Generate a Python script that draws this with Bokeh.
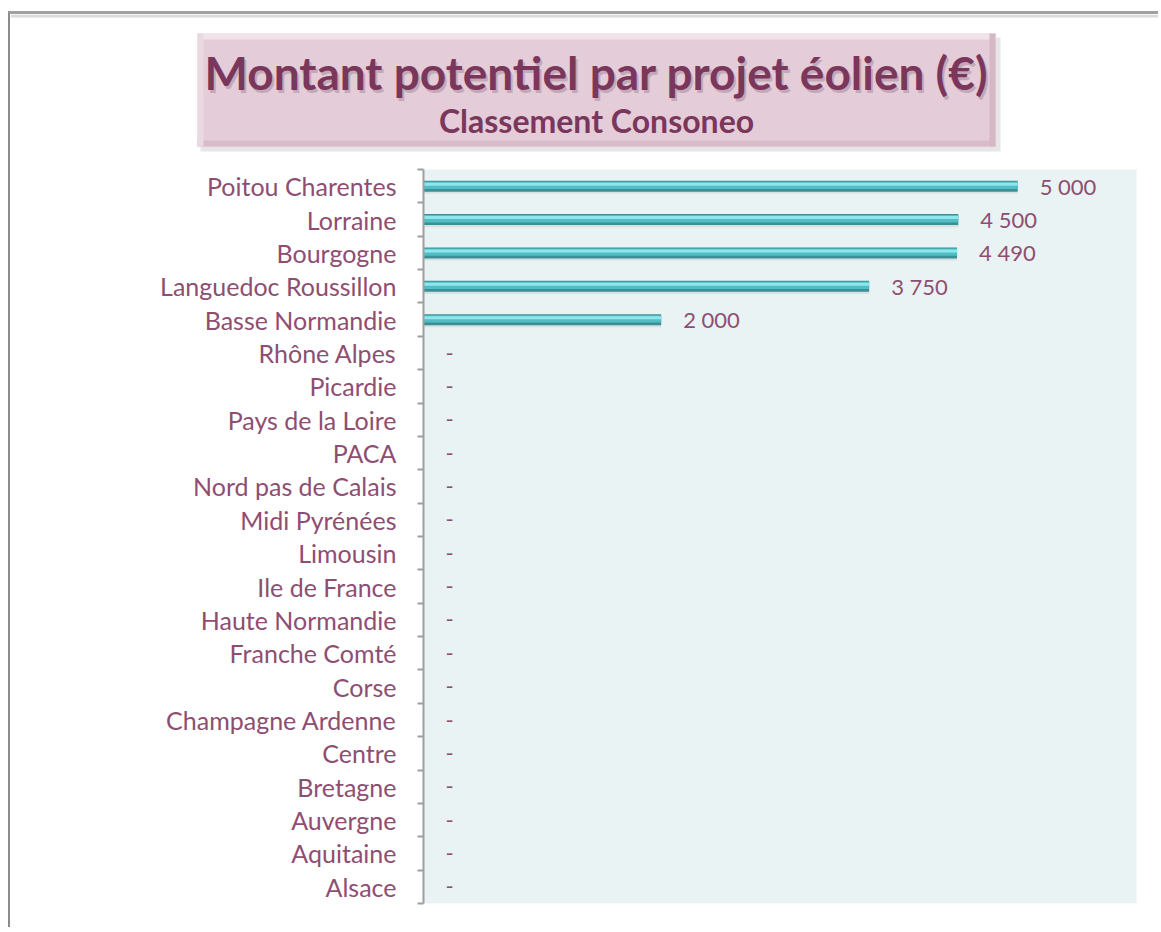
from bokeh.plotting import figure
from bokeh.models import (Range1d, FactorRange, ColumnDataSource, LinearAxis, CategoricalAxis,
                          FixedTicker)
from bokeh.transform import dodge
from bokeh.core.properties import value
from bokeh.embed import file_html
from bokeh.resources import INLINE

# ---- data ----
regions = ["Poitou Charentes", "Lorraine", "Bourgogne", "Languedoc Roussillon",
           "Basse Normandie", "Rhône Alpes", "Picardie", "Pays de la Loire", "PACA",
           "Nord pas de Calais", "Midi Pyrénées", "Limousin", "Ile de France",
           "Haute Normandie", "Franche Comté", "Corse", "Champagne Ardenne", "Centre",
           "Bretagne", "Auvergne", "Aquitaine", "Alsace"]
amounts = [5000, 4500, 4490, 3750, 2000, 0, 0, 0, 0, 0, 0, 0, 0, 0, 0, 0, 0, 0, 0, 0, 0, 0]
title_text = "Montant potentiel par projet éolien (€)"
subtitle_text = "Classement Consoneo"

labels = [("-" if a == 0 else f"{a:,}".replace(",", " ")) for a in amounts]

FONT = "Lato"
TXT = "#8E4E72"
TITLE_COL = "#7B365C"
W = 1150

# ---- title figure ----
TH = 146
t = figure(width=W, height=TH, x_range=Range1d(0, W), y_range=Range1d(TH, 0),
           output_backend="svg", toolbar_location=None, min_border=0,
           styles={"margin-left": "8px", "margin-top": "11px",
                   "border-left": "2px solid #8C8C8C", "border-top": "3px solid #A0A0A0"})
t.axis.visible = False
t.grid.visible = False
t.outline_line_color = None
t.background_fill_color = "white"
t.border_fill_color = "white"
# soft shadow under the top frame line
t.quad(left=[0], right=[W], top=[0], bottom=[3], color="#DADADA", line_color=None)
bx0, bx1, by0, by1 = 187, 985, 19, 132
# shadow
t.quad(left=[bx0 + 3], right=[bx1 + 5], top=[by0 + 4], bottom=[by1 + 5], color="#E6E6E6", line_color=None)
# main box
t.quad(left=[bx0], right=[bx1], top=[by0], bottom=[by1], color="#E4CCD8", line_color=None)
# bevel strips
t.quad(left=[bx0], right=[bx1], top=[by0], bottom=[by0 + 6], color="#F1E3EA", line_color=None)
t.quad(left=[bx0], right=[bx1], top=[by1 - 6], bottom=[by1], color="#D9BBCA", line_color=None)
t.quad(left=[bx0], right=[bx0 + 6], top=[by0], bottom=[by1], color="#EBD9E2", line_color=None)
t.quad(left=[bx1 - 6], right=[bx1], top=[by0], bottom=[by1], color="#D6B7C6", line_color=None)
cx = (bx0 + bx1) / 2
# text shadow
t.text(x=[cx + 2], y=[58 + 3], text=[title_text], text_font=value(FONT), text_font_style="bold",
       text_font_size="46px", text_color="#B49AA8", text_align="center", text_baseline="middle", text_alpha=0.7)
t.text(x=[cx], y=[58], text=[title_text], text_font=value(FONT), text_font_style="bold",
       text_font_size="46px", text_color=TITLE_COL, text_align="center", text_baseline="middle")
t.text(x=[cx], y=[106], text=[subtitle_text], text_font=value(FONT), text_font_style="bold",
       text_font_size="32px", text_color=TITLE_COL, text_align="center", text_baseline="middle")

# ---- chart figure ----
src = ColumnDataSource(dict(region=regions, amount=amounts, label=labels))
p = figure(y_range=FactorRange(factors=list(reversed(regions))), x_range=Range1d(0, 6000),
           frame_width=713, frame_height=734, min_border_left=413, min_border_right=24,
           min_border_top=12, min_border_bottom=24,
           y_axis_location=None, x_axis_location=None,
           output_backend="svg", toolbar_location=None,
           styles={"margin-left": "8px", "border-left": "2px solid #8C8C8C"})
p.background_fill_color = "#EAF3F4"
p.border_fill_color = "white"
p.outline_line_color = None
p.grid.visible = False

# axis line with (minor) ticks at category boundaries, no labels
tick_axis = LinearAxis(ticker=FixedTicker(ticks=[], minor_ticks=list(range(len(regions) + 1))),
                       axis_line_color="#9E9E9E", axis_line_width=2,
                       major_tick_line_color=None,
                       minor_tick_line_color="#9E9E9E", minor_tick_line_width=2,
                       minor_tick_in=0, minor_tick_out=6, major_label_standoff=0)
p.add_layout(tick_axis, "left")

cat_axis = CategoricalAxis(axis_line_color=None, major_tick_line_color=None,
                           major_label_text_font=FONT, major_label_text_font_size="25px",
                           major_label_text_color=TXT, major_label_standoff=15)
p.add_layout(cat_axis, "left")

# bar shadow
p.hbar(y=dodge("region", -0.07, range=p.y_range), left=0, right="amount", height=0.32,
       source=src, color="#C9D3D4", alpha=0.55, line_color=None)
# bar body (cylinder effect)
p.hbar(y="region", left=0, right="amount", height=0.33, source=src, color="#3B8F95", line_color=None)
p.hbar(y=dodge("region", 0.025, range=p.y_range), left=0, right="amount", height=0.22,
       source=src, color="#52BDC4", line_color=None)
p.hbar(y=dodge("region", 0.06, range=p.y_range), left=0, right="amount", height=0.09,
       source=src, color="#8FE6EC", line_color=None)

p.text(x="amount", y="region", text="label", source=src, x_offset=22,
       text_font=value(FONT), text_font_size="22px", text_color=TXT,
       text_baseline="middle", text_align="left")

open("out.html", "w").write(file_html([t, p], INLINE))
